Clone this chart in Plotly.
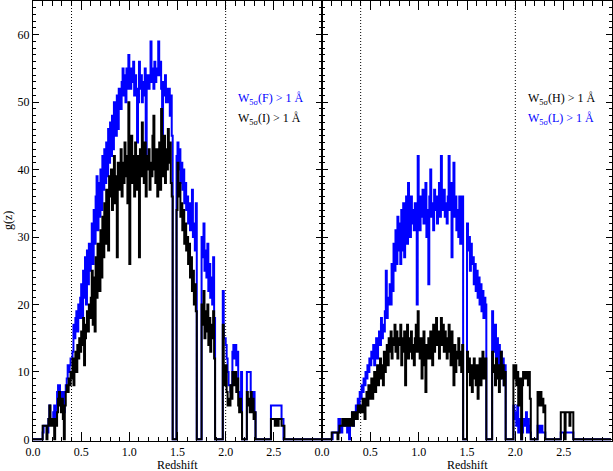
import plotly.graph_objects as go

# redshift bins (left edges, 0.01 wide)
redshift = [round(i * 0.01, 2) for i in range(300)]

# Left panel: W5sigma(F) > 1 A (blue) and W5sigma(I) > 1 A (black)
g_F = [
    0, 0, 0, 0, 0, 0, 0, 0, 0, 0,
    1, 2, 2, 2, 2, 1, 3, 5, 3, 3,
    3, 4, 5, 3, 5, 7, 8, 8, 6, 5,
    7, 6, 4, 7, 8, 9, 11, 10, 11, 12,
    12, 13, 17, 15, 18, 19, 16, 20, 18, 21,
    23, 18, 25, 21, 27, 20, 28, 23, 29, 25,
    27, 32, 26, 34, 29, 36, 39, 31, 38, 33,
    40, 34, 42, 37, 43, 38, 44, 39, 46, 41,
    47, 42, 48, 43, 50, 49, 45, 51, 46, 52,
    52, 49, 53, 55, 51, 54, 50, 55, 52, 57,
    54, 52, 55, 53, 56, 51, 54, 52, 44, 50,
    56, 52, 54, 50, 53, 51, 55, 42, 54, 53,
    52, 54, 59, 53, 55, 52, 56, 53, 55, 54,
    59, 54, 56, 52, 45, 53, 51, 54, 50, 52,
    50, 52, 48, 51, 45, 0, 0, 0, 0, 42,
    44, 40, 43, 38, 41, 37, 40, 35, 38, 34,
    36, 32, 35, 31, 33, 37, 30, 32, 28, 35,
    0, 0, 0, 0, 0, 30, 27, 32, 25, 28,
    24, 29, 22, 26, 21, 24, 20, 27, 18, 0,
    0, 0, 0, 0, 0, 0, 0, 22, 15, 15,
    14, 12, 10, 8, 8, 7, 8, 13, 14, 12,
    14, 11, 13, 7, 6, 5, 10, 0, 0, 0,
    0, 0, 10, 10, 10, 10, 7, 7, 6, 7,
    4, 0, 0, 0, 0, 0, 0, 0, 0, 0,
    0, 0, 0, 0, 0, 0, 0, 5, 5, 5,
    5, 5, 5, 5, 5, 5, 5, 5, 3, 3,
    0, 0, 0, 0, 0, 0, 0, 0, 0, 0,
    0, 0, 0, 0, 0, 0, 0, 0, 0, 0,
    0, 0, 0, 0, 0, 0, 0, 0, 0, 0,
    0, 0, 0, 0, 0, 0, 0, 0, 0, 0,
]

g_I = [
    0, 0, 0, 0, 0, 0, 0, 0, 0, 0,
    2, 2, 2, 2, 0, 2, 3, 5, 2, 3,
    3, 2, 0, 3, 2, 4, 6, 7, 5, 4,
    6, 3, 0, 5, 7, 8, 7, 9, 8, 10,
    9, 12, 8, 11, 13, 10, 14, 12, 15, 13,
    16, 14, 18, 11, 15, 17, 19, 16, 20, 18,
    21, 25, 17, 24, 16, 27, 21, 29, 24, 22,
    31, 24, 33, 27, 35, 29, 37, 31, 28, 39,
    36, 40, 34, 38, 42, 35, 39, 27, 41, 37,
    40, 43, 36, 41, 38, 44, 39, 42, 35, 50,
    26, 41, 45, 38, 42, 36, 44, 40, 37, 42,
    27, 43, 39, 47, 41, 38, 44, 36, 42, 40,
    43, 37, 41, 39, 45, 48, 40, 38, 43, 36,
    41, 44, 37, 49, 42, 39, 45, 38, 43, 40,
    46, 41, 44, 38, 36, 0, 0, 0, 0, 34,
    41, 36, 38, 33, 35, 31, 34, 29, 32, 28,
    30, 26, 29, 24, 27, 22, 25, 20, 23, 19,
    0, 0, 0, 0, 0, 20, 17, 22, 15, 19,
    16, 20, 14, 18, 13, 17, 15, 19, 12, 0,
    0, 0, 0, 0, 0, 0, 0, 17, 10, 8,
    11, 7, 5, 6, 5, 8, 6, 10, 8, 9,
    10, 7, 9, 5, 4, 6, 4, 0, 0, 0,
    0, 0, 7, 5, 6, 4, 7, 4, 6, 3,
    4, 0, 0, 0, 0, 0, 0, 0, 0, 0,
    0, 0, 0, 0, 0, 0, 0, 3, 3, 3,
    3, 2, 3, 3, 2, 3, 3, 3, 2, 2,
    2, 0, 0, 0, 0, 0, 0, 0, 0, 0,
    0, 0, 0, 0, 0, 0, 0, 0, 0, 0,
    0, 0, 0, 0, 0, 0, 0, 0, 0, 0,
    0, 0, 0, 0, 0, 0, 0, 0, 0, 0,
]

# Right panel: W5sigma(H) > 1 A (black) and W5sigma(L) > 1 A (blue)
g_L = [
    0, 0, 0, 0, 0, 0, 0, 0, 0, 0,
    0, 1, 1, 1, 1, 1, 1, 3, 3, 1,
    1, 2, 2, 3, 2, 3, 1, 3, 0, 3,
    3, 4, 2, 4, 3, 5, 4, 6, 5, 7,
    6, 8, 7, 9, 8, 10, 9, 11, 10, 12,
    11, 13, 12, 14, 11, 13, 15, 12, 14, 16,
    14, 18, 15, 17, 16, 19, 25, 18, 21, 20,
    23, 20, 26, 22, 29, 25, 31, 26, 33, 28,
    32, 26, 34, 28, 35, 27, 33, 36, 29, 38,
    33, 30, 36, 32, 34, 31, 35, 33, 20, 42,
    34, 31, 36, 33, 37, 32, 35, 38, 30, 34,
    23, 36, 40, 33, 35, 31, 37, 34, 36, 32,
    35, 38, 33, 42, 36, 34, 37, 33, 35, 32,
    36, 42, 34, 38, 27, 35, 41, 33, 36, 31,
    34, 30, 36, 29, 33, 36, 0, 0, 0, 0,
    32, 28, 30, 25, 29, 26, 27, 23, 26, 22,
    25, 21, 24, 20, 23, 19, 22, 18, 21, 20,
    0, 0, 0, 0, 0, 0, 19, 15, 13, 17,
    12, 15, 11, 14, 9, 13, 10, 12, 8, 11,
    0, 0, 0, 0, 0, 0, 0, 0, 5, 3,
    4, 2, 5, 1, 3, 2, 0, 1, 2, 3,
    2, 4, 1, 3, 2, 1, 0, 0, 0, 0,
    0, 0, 0, 2, 1, 2, 1, 2, 1, 1,
    1, 0, 0, 0, 0, 0, 0, 0, 0, 0,
    0, 0, 0, 0, 0, 0, 0, 1, 1, 1,
    1, 1, 1, 1, 1, 1, 1, 1, 1, 1,
    0, 0, 0, 0, 0, 0, 0, 0, 0, 0,
    0, 0, 0, 0, 0, 0, 0, 0, 0, 0,
    0, 0, 0, 0, 0, 0, 0, 0, 0, 0,
    0, 0, 0, 0, 0, 0, 0, 0, 0, 0,
]

g_H = [
    0, 0, 0, 0, 0, 0, 0, 0, 0, 0,
    1, 1, 1, 1, 1, 1, 0, 1, 2, 2,
    2, 3, 2, 3, 2, 2, 3, 2, 3, 2,
    3, 4, 2, 4, 3, 4, 3, 5, 4, 5,
    5, 4, 6, 5, 3, 6, 7, 5, 8, 6,
    7, 9, 6, 8, 10, 7, 9, 11, 8, 10,
    12, 9, 11, 8, 13, 10, 12, 14, 11, 15,
    13, 16, 12, 15, 14, 17, 13, 16, 12, 15,
    14, 17, 11, 15, 13, 16, 8, 14, 17, 12,
    15, 13, 16, 12, 14, 11, 15, 17, 13, 19,
    14, 12, 15, 9, 13, 16, 11, 7, 14, 12,
    15, 12, 16, 14, 11, 17, 13, 15, 18, 14,
    16, 12, 15, 18, 14, 17, 13, 16, 15, 12,
    14, 17, 13, 11, 16, 12, 8, 14, 10, 13,
    12, 15, 11, 13, 10, 14, 0, 0, 0, 0,
    13, 10, 12, 8, 11, 7, 10, 12, 9, 8,
    11, 6, 9, 12, 8, 10, 13, 9, 11, 12,
    0, 0, 0, 0, 0, 0, 13, 10, 11, 8,
    12, 9, 11, 7, 10, 13, 9, 11, 8, 10,
    0, 0, 0, 0, 0, 0, 0, 0, 11, 9,
    11, 8, 10, 5, 7, 9, 0, 8, 10, 9,
    10, 9, 10, 8, 10, 6, 0, 0, 0, 0,
    0, 0, 0, 7, 5, 6, 7, 5, 6, 4,
    5, 0, 0, 0, 0, 0, 0, 0, 0, 0,
    0, 0, 0, 0, 0, 0, 0, 4, 4, 4,
    4, 0, 4, 4, 4, 4, 2, 4, 4, 4,
    0, 0, 0, 0, 0, 0, 0, 0, 0, 0,
    0, 0, 0, 0, 0, 0, 0, 0, 0, 0,
    0, 0, 0, 0, 0, 0, 0, 0, 0, 0,
    0, 0, 0, 0, 0, 0, 0, 0, 0, 0,
]

x_tickvals = [0.0, 0.5, 1.0, 1.5, 2.0, 2.5]
x_ticktext = ["0.0", "0.5", "1.0", "1.5", "2.0", "2.5"]
y_tickvals = [0, 10, 20, 30, 40, 50, 60]
y_ticktext = ["0", "10", "20", "30", "40", "50", "60"]
redshift_cuts = [0.4, 2.0]

FONT = "Liberation Serif"
BLUE = "#0000ff"
BLACK = "#000000"
LW = 2

fig = go.Figure()
fig.add_trace(go.Scatter(x=redshift, y=g_F, mode="lines", xaxis="x", yaxis="y",
                         line=dict(color=BLUE, width=LW, shape="hv"), hoverinfo="skip"))
fig.add_trace(go.Scatter(x=redshift, y=g_I, mode="lines", xaxis="x", yaxis="y",
                         line=dict(color=BLACK, width=LW, shape="hv"), hoverinfo="skip"))
fig.add_trace(go.Scatter(x=redshift, y=g_L, mode="lines", xaxis="x2", yaxis="y2",
                         line=dict(color=BLUE, width=LW, shape="hv"), hoverinfo="skip"))
fig.add_trace(go.Scatter(x=redshift, y=g_H, mode="lines", xaxis="x2", yaxis="y2",
                         line=dict(color=BLACK, width=LW, shape="hv"), hoverinfo="skip"))

common = dict(showline=True, linecolor="black", linewidth=1, mirror="allticks",
              ticks="inside", tickcolor="black", tickwidth=1, showgrid=False,
              zeroline=False, tickfont=dict(family=FONT, size=12, color="black"))

xcommon = dict(common, range=[0, 3.0], tickmode="array", tickvals=x_tickvals,
               ticktext=x_ticktext, ticklen=9,
               minor=dict(dtick=0.1, tick0=0, ticklen=4.5, ticks="inside",
                          tickcolor="black", showgrid=False))
ycommon = dict(common, range=[-0.25, 65], tickmode="array", tickvals=y_tickvals,
               ticktext=y_ticktext, ticklen=6,
               minor=dict(dtick=1, tick0=0, ticklen=3, ticks="inside",
                          tickcolor="black", showgrid=False))

split = (322 - 33) / 579
fig.update_layout(
    width=613, height=471,
    margin=dict(l=33, r=1, t=1, b=30),
    paper_bgcolor="white", plot_bgcolor="white",
    showlegend=False,
    xaxis=dict(xcommon, domain=[0, split], anchor="y"),
    xaxis2=dict(xcommon, domain=[split, 1], anchor="y2"),
    yaxis=dict(ycommon, domain=[0, 1], anchor="x"),
    yaxis2=dict(ycommon, domain=[0, 1], anchor="x2", showticklabels=False),
    font=dict(family=FONT, size=12, color="black"),
)

shapes = []
for xa, ya in (("x", "y domain"), ("x2", "y2 domain")):
    for v in redshift_cuts:
        shapes.append(dict(type="line", xref=xa, yref=ya, x0=v, x1=v, y0=0, y1=1,
                           line=dict(color="black", width=1, dash="1px,2px"), layer="below"))
fig.update_layout(shapes=shapes)

ann = [
    dict(text="g(z)", xref="paper", yref="paper", x=-0.043, y=0.5, textangle=-90,
         showarrow=False, font=dict(family=FONT, size=12, color="black"),
         xanchor="center", yanchor="middle"),
    dict(text="Redshift", xref="paper", yref="paper", x=0.2504, y=-0.054,
         showarrow=False, font=dict(family=FONT, size=12, color="black"),
         xanchor="center", yanchor="middle"),
    dict(text="Redshift", xref="paper", yref="paper", x=0.7496, y=-0.054,
         showarrow=False, font=dict(family=FONT, size=12, color="black"),
         xanchor="center", yanchor="middle"),
    dict(text="W<sub>5σ</sub>(F) > 1 Å", xref="paper", yref="paper",
         x=(236 - 33) / 579, y=(441 - 99) / 440, showarrow=False,
         font=dict(family=FONT, size=12, color=BLUE), xanchor="left", yanchor="middle"),
    dict(text="W<sub>5σ</sub>(I) > 1 Å", xref="paper", yref="paper",
         x=(236 - 33) / 579, y=(441 - 119) / 440, showarrow=False,
         font=dict(family=FONT, size=12, color=BLACK), xanchor="left", yanchor="middle"),
    dict(text="W<sub>5σ</sub>(H) > 1 Å", xref="paper", yref="paper",
         x=(526 - 33) / 579, y=(441 - 99) / 440, showarrow=False,
         font=dict(family=FONT, size=12, color=BLACK), xanchor="left", yanchor="middle"),
    dict(text="W<sub>5σ</sub>(L) > 1 Å", xref="paper", yref="paper",
         x=(526 - 33) / 579, y=(441 - 119) / 440, showarrow=False,
         font=dict(family=FONT, size=12, color=BLUE), xanchor="left", yanchor="middle"),
]
fig.update_layout(annotations=ann)

fig.write_html("out.html", config={"displayModeBar": False},
               post_script="document.body.style.margin='0px';document.body.style.padding='0px';")
